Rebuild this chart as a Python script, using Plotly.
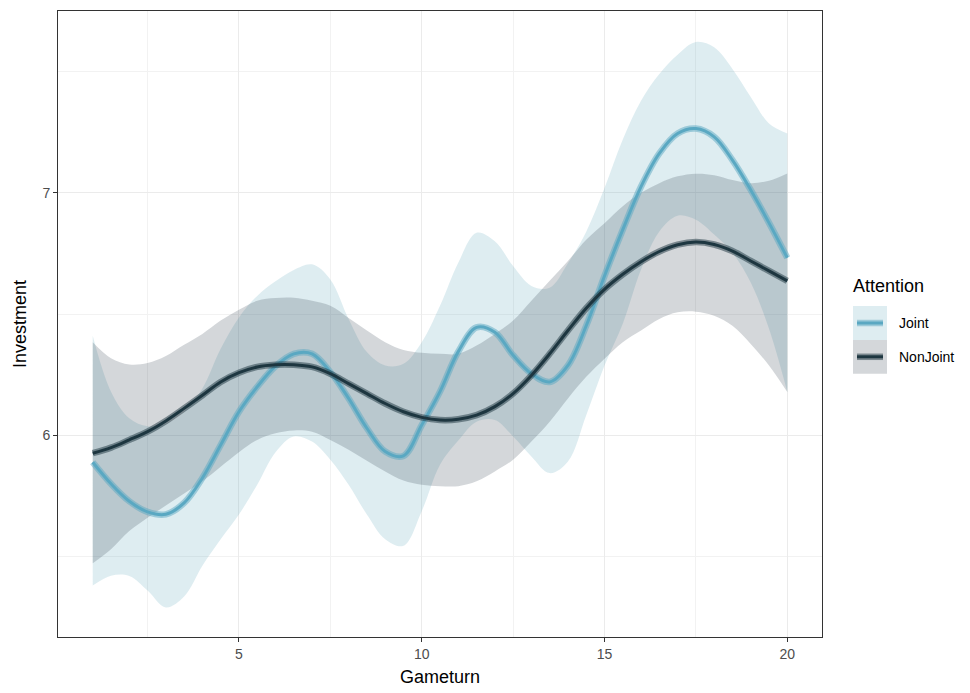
import plotly.graph_objects as go

# ---------------- data ----------------
gameturn = [1, 1.5, 2, 2.5, 3, 3.5, 4, 4.5, 5, 5.5, 6, 6.5, 7, 7.5, 8, 8.5, 9, 9.5, 10, 10.5,
            11, 11.5, 12, 12.5, 13, 13.5, 14, 14.5, 15, 15.5, 16, 16.5, 17, 17.5, 18, 18.5, 19, 19.5, 20]

joint_fit = [5.889, 5.800, 5.728, 5.684, 5.674, 5.721, 5.824, 5.960, 6.097, 6.200,
             6.285, 6.336, 6.336, 6.261, 6.152, 6.029, 5.933, 5.915, 6.042, 6.180,
             6.345, 6.445, 6.425, 6.330, 6.254, 6.220, 6.288, 6.452, 6.657, 6.848,
             7.026, 7.163, 7.245, 7.265, 7.231, 7.135, 7.012, 6.876, 6.732]
joint_upper = [6.411, 6.180, 6.070, 6.037, 6.048, 6.097, 6.193, 6.357, 6.486, 6.575,
               6.635, 6.682, 6.705, 6.643, 6.480, 6.343, 6.288, 6.295, 6.384, 6.534,
               6.712, 6.835, 6.800, 6.698, 6.616, 6.609, 6.710, 6.840, 7.020, 7.220,
               7.380, 7.490, 7.570, 7.622, 7.600, 7.511, 7.395, 7.286, 7.245]
joint_lower = [5.380, 5.421, 5.420, 5.360, 5.290, 5.335, 5.462, 5.571, 5.673, 5.796,
               5.930, 5.995, 5.974, 5.899, 5.796, 5.673, 5.571, 5.544, 5.687, 5.878,
               5.978, 6.056, 6.063, 5.995, 5.913, 5.844, 5.892, 6.083, 6.288, 6.460,
               6.684, 6.841, 6.906, 6.889, 6.828, 6.753, 6.630, 6.439, 6.179]

nonjoint_fit = [5.926, 5.949, 5.981, 6.015, 6.059, 6.111, 6.165, 6.220, 6.258, 6.282,
                6.291, 6.291, 6.282, 6.254, 6.213, 6.172, 6.131, 6.097, 6.074, 6.063,
                6.066, 6.083, 6.118, 6.172, 6.247, 6.336, 6.432, 6.524, 6.602, 6.664,
                6.716, 6.758, 6.786, 6.797, 6.787, 6.760, 6.719, 6.678, 6.637]
nonjoint_upper = [6.384, 6.318, 6.292, 6.298, 6.327, 6.373, 6.418, 6.473, 6.518, 6.555,
                  6.566, 6.567, 6.555, 6.534, 6.484, 6.432, 6.384, 6.352, 6.340, 6.336,
                  6.336, 6.370, 6.418, 6.473, 6.555, 6.637, 6.719, 6.807, 6.875, 6.945,
                  7.000, 7.040, 7.068, 7.079, 7.073, 7.053, 7.040, 7.050, 7.080]
nonjoint_lower = [5.472, 5.530, 5.605, 5.660, 5.710, 5.760, 5.810, 5.870, 5.930, 5.981,
                  6.008, 6.020, 6.015, 5.981, 5.940, 5.895, 5.851, 5.813, 5.796, 5.790,
                  5.790, 5.810, 5.851, 5.899, 5.974, 6.056, 6.152, 6.241, 6.316, 6.384,
                  6.432, 6.480, 6.507, 6.510, 6.493, 6.452, 6.377, 6.288, 6.179]

groups = ["Joint", "NonJoint"]
x_ticks = [5, 10, 15, 20]
y_ticks = [6, 7]

# ---------------- styles ----------------
JOINT_LINE = "#5aa8c2"
JOINT_HALO = "rgba(90,168,194,0.50)"
JOINT_FILL = "rgba(90,165,185,0.20)"
NJ_LINE = "#1d3640"
NJ_HALO = "rgba(29,54,64,0.50)"
NJ_FILL = "rgba(40,55,70,0.20)"
FONT = "Liberation Sans, Arial, Helvetica, sans-serif"

W, H = 970, 693
ML, MR, MT, MB = 58, 148, 10, 53
PW, PH = W - ML - MR, H - MT - MB


def px(xp):
    return (xp - ML) / PW


def py(yp):
    return (H - MB - yp) / PH


fig = go.Figure()


def add_ribbon(lower, upper, fill):
    fig.add_trace(go.Scatter(x=gameturn, y=lower, mode="lines",
                             line=dict(width=0, shape="spline", smoothing=1.0, color="rgba(0,0,0,0)"),
                             hoverinfo="skip", showlegend=False))
    fig.add_trace(go.Scatter(x=gameturn, y=upper, mode="lines", fill="tonexty", fillcolor=fill,
                             line=dict(width=0, shape="spline", smoothing=1.0, color="rgba(0,0,0,0)"),
                             hoverinfo="skip", showlegend=False))


def add_line(yv, halo, core, name):
    fig.add_trace(go.Scatter(x=gameturn, y=yv, mode="lines",
                             line=dict(width=6.5, color=halo, shape="spline", smoothing=1.0),
                             hoverinfo="skip", showlegend=False))
    fig.add_trace(go.Scatter(x=gameturn, y=yv, mode="lines", name=name,
                             line=dict(width=3, color=core, shape="spline", smoothing=1.0),
                             showlegend=False))


add_ribbon(joint_lower, joint_upper, JOINT_FILL)
add_ribbon(nonjoint_lower, nonjoint_upper, NJ_FILL)
add_line(joint_fit, JOINT_HALO, JOINT_LINE, groups[0])
add_line(nonjoint_fit, NJ_HALO, NJ_LINE, groups[1])

# ---------------- manual legend (ggplot style) ----------------
shapes = []
annotations = []
keys = [(groups[0], JOINT_FILL, JOINT_HALO, JOINT_LINE, 307, 341),
        (groups[1], NJ_FILL, NJ_HALO, NJ_LINE, 341, 375)]
for name, fill, halo, core, y0, y1 in keys:
    shapes.append(dict(type="rect", xref="paper", yref="paper", x0=px(853), x1=px(887),
                       y0=py(y1), y1=py(y0), fillcolor=fill, line=dict(width=0), layer="above"))
    ym = (y0 + y1) / 2
    shapes.append(dict(type="line", xref="paper", yref="paper", x0=px(857), x1=px(883),
                       y0=py(ym), y1=py(ym), line=dict(color=halo, width=6.5), layer="above"))
    shapes.append(dict(type="line", xref="paper", yref="paper", x0=px(857), x1=px(883),
                       y0=py(ym), y1=py(ym), line=dict(color=core, width=3), layer="above"))
    annotations.append(dict(text=name, xref="paper", yref="paper", x=px(897), y=py(ym),
                            xanchor="left", yanchor="middle", showarrow=False,
                            font=dict(family=FONT, size=14, color="#000000")))
annotations.append(dict(text="Attention", xref="paper", yref="paper", x=px(851), y=py(287),
                        xanchor="left", yanchor="middle", showarrow=False,
                        font=dict(family=FONT, size=18, color="#000000")))

axis_common = dict(showline=True, mirror=True, linecolor="#333333", linewidth=1,
                   ticks="outside", ticklen=4, tickwidth=1, tickcolor="#333333",
                   tickfont=dict(family=FONT, size=14, color="#4d4d4d"),
                   showgrid=True, gridcolor="#ebebeb", gridwidth=1.1, zeroline=False)

fig.update_layout(
    width=W, height=H,
    margin=dict(l=ML, r=MR, t=MT, b=MB, pad=0),
    paper_bgcolor="white", plot_bgcolor="white",
    font=dict(family=FONT),
    showlegend=False,
    shapes=shapes, annotations=annotations,
    xaxis=dict(range=[0.05, 20.95], tickvals=x_ticks, ticktext=[str(v) for v in x_ticks],
               minor=dict(tickvals=[2.5, 7.5, 12.5, 17.5], showgrid=True, gridcolor="#f2f2f2",
                          gridwidth=0.6, ticks=""),
               title=dict(text="Gameturn", font=dict(family=FONT, size=18, color="#000000"), standoff=9),
               **axis_common),
    yaxis=dict(range=[5.168, 7.75], tickvals=y_ticks, ticktext=[str(v) for v in y_ticks],
               minor=dict(tickvals=[5.5, 6.5, 7.5], showgrid=True, gridcolor="#f2f2f2",
                          gridwidth=0.6, ticks=""),
               title=dict(text="Investment", font=dict(family=FONT, size=18, color="#000000"), standoff=11),
               **axis_common),
)

fig.write_html("out.html")
